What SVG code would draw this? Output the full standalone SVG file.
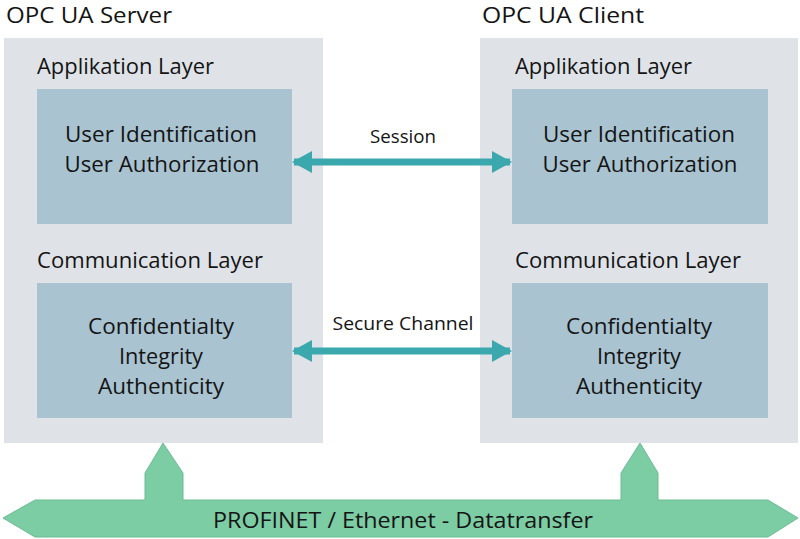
<svg xmlns="http://www.w3.org/2000/svg" width="800" height="539" viewBox="0 0 800 539">
<defs>
<style>
text{font-family:"Open Sans","Lato","DejaVu Sans",sans-serif;fill:#141414;}
.title{font-size:22px;}
.layer{font-size:21px;}
.inner{font-size:21px;text-anchor:middle;}
.lbl{font-size:18px;text-anchor:middle;}
.bus{font-size:22px;text-anchor:middle;}
.outer{fill:#dfe3e8;}
.box{fill:#a9c3d0;}
.arrow{stroke:#3aa8ad;stroke-width:7;fill:none;}
.green{fill:#7ccca4;stroke:#6bbd94;stroke-width:1;}
</style>
<marker id="ah" viewBox="0 0 20 22" refX="18" refY="11" markerWidth="20" markerHeight="22" markerUnits="userSpaceOnUse" orient="auto-start-reverse">
<path d="M0,0 L20,11 L0,22 Z" fill="#3aa8ad"/>
</marker>
</defs>
<rect width="800" height="539" fill="#ffffff"/>
<g id="server">
<text class="title" x="6" y="23" textLength="166" lengthAdjust="spacingAndGlyphs">OPC UA Server</text>
<rect class="outer" x="4" y="38" width="319" height="405"/>
<text class="layer" x="37" y="74" textLength="177" lengthAdjust="spacingAndGlyphs">Applikation Layer</text>
<g id="server-app">
<rect class="box" x="37" y="89" width="255" height="135"/>
<text class="inner" x="161" y="142" textLength="192" lengthAdjust="spacingAndGlyphs">User Identification</text>
<text class="inner" x="162" y="172" textLength="195" lengthAdjust="spacingAndGlyphs">User Authorization</text>
</g>
<text class="layer" x="37" y="268" textLength="226" lengthAdjust="spacingAndGlyphs">Communication Layer</text>
<g id="server-comm">
<rect class="box" x="37" y="283" width="255" height="135"/>
<text class="inner" x="161" y="334" textLength="146" lengthAdjust="spacingAndGlyphs">Confidentialty</text>
<text class="inner" x="161" y="364" textLength="84" lengthAdjust="spacingAndGlyphs">Integrity</text>
<text class="inner" x="161" y="394" textLength="126" lengthAdjust="spacingAndGlyphs">Authenticity</text>
</g>
</g>
<g id="client">
<text class="title" x="482" y="23" textLength="162" lengthAdjust="spacingAndGlyphs">OPC UA Client</text>
<rect class="outer" x="480" y="38" width="318" height="405"/>
<text class="layer" x="515" y="74" textLength="177" lengthAdjust="spacingAndGlyphs">Applikation Layer</text>
<g id="client-app">
<rect class="box" x="512" y="89" width="256" height="135"/>
<text class="inner" x="639" y="142" textLength="192" lengthAdjust="spacingAndGlyphs">User Identification</text>
<text class="inner" x="640" y="172" textLength="195" lengthAdjust="spacingAndGlyphs">User Authorization</text>
</g>
<text class="layer" x="515" y="268" textLength="226" lengthAdjust="spacingAndGlyphs">Communication Layer</text>
<g id="client-comm">
<rect class="box" x="512" y="283" width="256" height="135"/>
<text class="inner" x="639" y="334" textLength="146" lengthAdjust="spacingAndGlyphs">Confidentialty</text>
<text class="inner" x="639" y="364" textLength="84" lengthAdjust="spacingAndGlyphs">Integrity</text>
<text class="inner" x="639" y="394" textLength="126" lengthAdjust="spacingAndGlyphs">Authenticity</text>
</g>
</g>
<g id="bus">
<path class="green" d="M3,518 L35,500 L145,500 L145,473 L163,443 L183,473 L183,500 L621,500 L621,473 L640,443 L658,473 L658,500 L768,500 L798,518 L768,537 L35,537 Z"/>
<text class="bus" x="403" y="528" textLength="380" lengthAdjust="spacingAndGlyphs">PROFINET / Ethernet - Datatransfer</text>
</g>
<g id="connectors">
<line class="arrow" x1="294" y1="162" x2="510" y2="162" marker-start="url(#ah)" marker-end="url(#ah)"/>
<text class="lbl" x="403" y="143" textLength="66" lengthAdjust="spacingAndGlyphs">Session</text>
<line class="arrow" x1="294" y1="351" x2="510" y2="351" marker-start="url(#ah)" marker-end="url(#ah)"/>
<text class="lbl" x="403" y="330" textLength="141" lengthAdjust="spacingAndGlyphs">Secure Channel</text>
</g>
</svg>
